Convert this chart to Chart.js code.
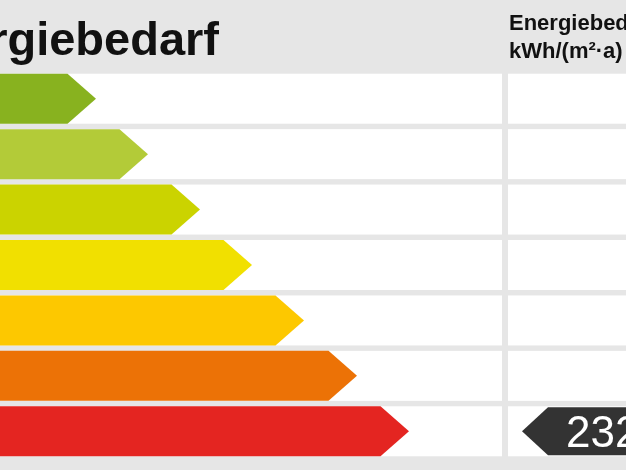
<!DOCTYPE html>
<html>
<head>
<meta charset="utf-8">
<script src="https://cdn.jsdelivr.net/npm/chart.js@4.4.1/dist/chart.umd.min.js"></script>
<style>
    html, body { margin: 0; padding: 0; background: #e6e6e6; }
    #wrap { width: 626px; height: 470px; }
</style>
</head>
<body>
<div id="wrap"><canvas id="label-chart"></canvas></div>
<script>
// Effizienzklassen (links abgeschnitten, daher unsichtbar)
var classes = ['A', 'B', 'C', 'D', 'E', 'F', 'G'];
// Pfeillaenge bis zur Spitze
var barLengths = [96, 148, 200, 252, 304, 357, 409];
var barColors = ['#88b21f', '#b3cb38', '#cbd300', '#f1e000', '#fdc800', '#ec7206', '#e42521'];
// Kennwert des Gebaeudes
var measuredValue = 232;
var measuredClass = 'G';

var titleText = 'Energiebedarf';
var columnTitle = ['Energiebedarf', 'kWh/(m\u00b2\u00b7a)'];

var energyLabel = {
    id: 'energyLabel',
    beforeDraw: function (chart) {
        var ctx = chart.ctx;
        var yScale = chart.scales.y;
        var area = chart.chartArea;
        ctx.save();
        ctx.fillStyle = '#e6e6e6';
        ctx.fillRect(0, 0, chart.width, chart.height);

        // weisse Zeilen
        ctx.fillStyle = '#ffffff';
        classes.forEach(function (c, i) {
            var y = yScale.getPixelForValue(i);
            ctx.fillRect(area.left, y - 25, area.right - area.left, 50);
            ctx.fillRect(area.right + 6, y - 25, chart.width - area.right - 6, 50);
        });

        // Ueberschriften
        ctx.fillStyle = '#111111';
        ctx.textBaseline = 'alphabetic';
        ctx.font = 'bold 47px "Liberation Sans", Arial, sans-serif';
        ctx.textAlign = 'right';
        ctx.fillText(titleText, 219, 55);
        ctx.textAlign = 'left';
        ctx.font = 'bold 22px "Liberation Sans", Arial, sans-serif';
        ctx.fillText(columnTitle[0], 509, 30);
        ctx.fillText(columnTitle[1], 509, 58);
        ctx.restore();
    },
    beforeDatasetDraw: function () {
        return false;
    },
    afterDatasetsDraw: function (chart) {
        var ctx = chart.ctx;
        var meta = chart.getDatasetMeta(0);
        var yScale = chart.scales.y;
        var area = chart.chartArea;
        var tip = 28.5;
        ctx.save();
        meta.data.forEach(function (bar, i) {
            var h = bar.height / 2;
            ctx.fillStyle = barColors[i];
            ctx.beginPath();
            ctx.moveTo(bar.base, bar.y - h);
            ctx.lineTo(bar.x - tip, bar.y - h);
            ctx.lineTo(bar.x, bar.y);
            ctx.lineTo(bar.x - tip, bar.y + h);
            ctx.lineTo(bar.base, bar.y + h);
            ctx.closePath();
            ctx.fill();
        });

        // Markierung mit Kennwert
        var my = yScale.getPixelForValue(classes.indexOf(measuredClass));
        var mx = area.right + 20;
        var mh = 24;
        ctx.fillStyle = '#333333';
        ctx.beginPath();
        ctx.moveTo(mx, my);
        ctx.lineTo(mx + 26, my - mh);
        ctx.lineTo(chart.width + 5, my - mh);
        ctx.lineTo(chart.width + 5, my + mh);
        ctx.lineTo(mx + 26, my + mh);
        ctx.closePath();
        ctx.fill();
        ctx.fillStyle = '#ffffff';
        ctx.font = '44px "Liberation Sans", Arial, sans-serif';
        ctx.textAlign = 'left';
        ctx.textBaseline = 'alphabetic';
        ctx.fillText(String(measuredValue), mx + 44, my + 16);
        ctx.restore();
    }
};

new Chart(document.getElementById('label-chart').getContext('2d'), {
    type: 'bar',
    data: {
        labels: classes,
        datasets: [{
            data: barLengths,
            backgroundColor: barColors,
            barThickness: 50
        }]
    },
    options: {
        indexAxis: 'y',
        responsive: true,
        maintainAspectRatio: false,
        animation: false,
        layout: {
            padding: { top: 71, bottom: 11, left: 0, right: 124 }
        },
        plugins: {
            legend: { display: false },
            tooltip: { enabled: false }
        },
        scales: {
            x: { display: false, min: 0, max: 502 },
            y: { display: false, grid: { display: false } }
        }
    },
    plugins: [energyLabel]
});
</script>
</body>
</html>
